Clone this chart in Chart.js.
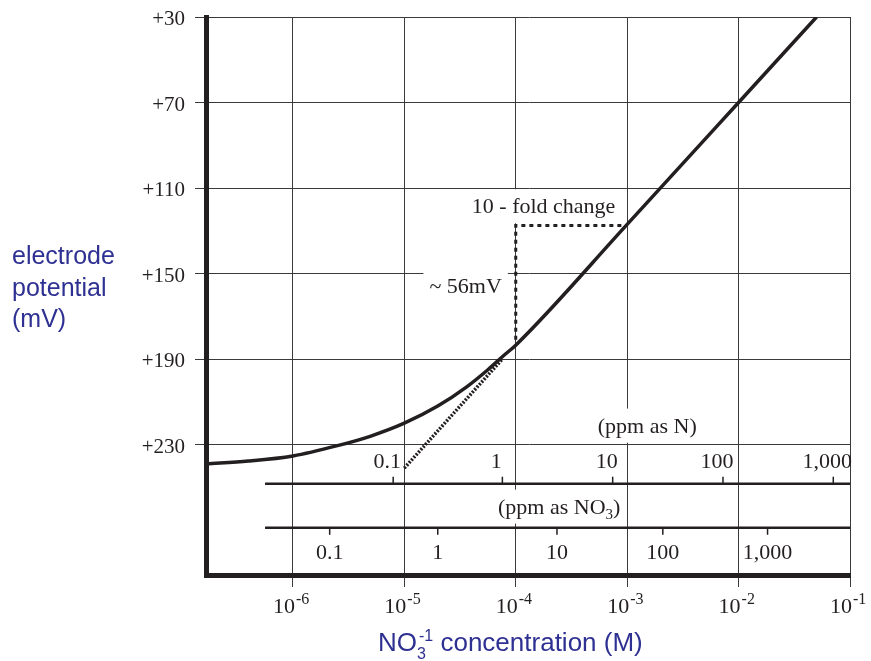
<!DOCTYPE html>
<html>
<head>
<meta charset="utf-8">
<script src="https://cdn.jsdelivr.net/npm/chart.js@4.4.1/dist/chart.umd.min.js"></script>
<style>
  html, body { margin: 0; padding: 0; background: #fff; }
  #wrap { width: 871px; height: 661px; }
</style>
</head>
<body>
<div id="wrap"><canvas id="no3Chart" width="871" height="661"></canvas></div>
<script>
// electrode response (x as log10 of molar conc.)
const curveExp = [-6.78, -6.4, -6.0, -5.6, -5.3, -5.0, -4.7, -4.44, -4.25, -4.1, -4.0, -3.0, -2.0, -1.3];
const curveMv = [239, 237.7, 235.3, 230.5, 226, 220, 212, 203, 195, 188, 183.5, 127, 70, 30];

// dotted extension of the straight part
const nernstExp = [-5.0, -4.12];
const nernstMv = [241, 190];

// dashed "10-fold change" step
const stepExp = [-4, -4, -3];
const stepMv = [181, 127.5, 127.5];

const xTickExp = [-6, -5, -4, -3, -2, -1];
const yTicks = [30, 70, 110, 150, 190, 230];

// ppm scales drawn under the curve, with where each tick sits on the molar axis
const ppmNLabels = ['0.1', '1', '10', '100', '1,000'];
const ppmNExp = [-5.10, -4.12, -3.13, -2.14, -1.15];
const ppmNO3Labels = ['0.1', '1', '10', '100', '1,000'];
const ppmNO3Exp = [-5.67, -4.70, -3.63, -2.68, -1.74];

const ink = '#231f20';
const blue = '#2e3192';
const serif = '"Liberation Serif", "Times New Roman", serif';
const sans = '"Liberation Sans", Arial, sans-serif';

const toPts = (ex, mv) => ex.map((e, i) => ({ x: Math.pow(10, e), y: mv[i] }));

const overlay = {
  id: 'overlay',
  beforeDatasetsDraw(chart) {
    const { ctx, scales: { x, y } } = chart;
    const px = e => x.getPixelForValue(Math.pow(10, e));
    const py = v => y.getPixelForValue(v);
    ctx.save();

    // label with a white patch behind it so the grid stops at the text
    const boxed = (txt, cx, base, align, sub) => {
      ctx.font = '22px ' + serif;
      let w = ctx.measureText(txt).width;
      let subW = 0;
      if (sub) {
        ctx.font = '15px ' + serif;
        subW = ctx.measureText(sub.s).width;
        ctx.font = '22px ' + serif;
        w += subW + ctx.measureText(sub.after).width;
      }
      const left = align === 'right' ? cx - w : cx - w / 2;
      ctx.fillStyle = '#fff';
      ctx.fillRect(left - 6, base - 24, w + 12, 34);
      ctx.fillStyle = ink;
      ctx.textAlign = 'left';
      ctx.textBaseline = 'alphabetic';
      ctx.fillText(txt, left, base);
      if (sub) {
        const tw = ctx.measureText(txt).width;
        ctx.font = '15px ' + serif;
        ctx.fillText(sub.s, left + tw, base + 5);
        ctx.font = '22px ' + serif;
        ctx.fillText(sub.after, left + tw + subW, base);
      }
    };

    boxed('10 - fold change', px(-3.75), py(121.8), 'center');
    boxed('~ 56mV', px(-4.125), py(159.3), 'right');
    boxed('(ppm as N)', px(-2.82), py(224.4), 'center');
    boxed('(ppm as NO', px(-3.61), py(262.3), 'center', { s: '3', after: ')' });

    // the two ppm rulers
    const x0 = px(-6.25), x1 = chart.chartArea.right;
    const lineN = py(248.3), lineNO3 = py(268.9);
    ctx.strokeStyle = ink;
    ctx.lineWidth = 2.5;
    ctx.beginPath();
    ctx.moveTo(x0, lineN); ctx.lineTo(x1, lineN);
    ctx.moveTo(x0, lineNO3); ctx.lineTo(x1, lineNO3);
    ctx.stroke();

    ctx.lineWidth = 1.5;
    ctx.font = '22px ' + serif;
    ctx.fillStyle = ink;
    ctx.textAlign = 'center';
    ctx.textBaseline = 'alphabetic';
    ppmNExp.forEach((e, i) => {
      const tx = px(e);
      ctx.beginPath();
      ctx.moveTo(tx, lineN - 7); ctx.lineTo(tx, lineN);
      ctx.stroke();
      ctx.fillText(ppmNLabels[i], tx - 6, lineN - 16);
    });
    ppmNO3Exp.forEach((e, i) => {
      const tx = px(e);
      ctx.beginPath();
      ctx.moveTo(tx, lineNO3); ctx.lineTo(tx, lineNO3 + 7);
      ctx.stroke();
      ctx.fillText(ppmNO3Labels[i], tx, lineNO3 + 31);
    });
    ctx.restore();
  },
  afterDraw(chart) {
    const { ctx, scales: { x, y } } = chart;
    ctx.save();
    ctx.fillStyle = ink;
    ctx.textBaseline = 'alphabetic';

    // y tick labels
    ctx.font = '21px ' + serif;
    ctx.textAlign = 'right';
    y.ticks.forEach(t => {
      ctx.fillText('+' + t.value, 185, y.getPixelForValue(t.value) + 8);
    });

    // x tick labels: 10 with exponent
    const base = chart.chartArea.bottom + 38;
    x.ticks.forEach(t => {
      const tx = x.getPixelForValue(t.value);
      const ex = Math.round(Math.log10(t.value));
      ctx.font = '22px ' + serif;
      ctx.textAlign = 'right';
      ctx.fillText('10', tx + 2, base);
      ctx.font = '16px ' + serif;
      ctx.textAlign = 'left';
      ctx.fillText(String(ex), tx + 3, base - 9);
    });

    // axis titles
    ctx.fillStyle = blue;
    ctx.font = '25px ' + sans;
    ctx.textAlign = 'left';
    ['electrode', 'potential', '(mV)'].forEach((s, i) => ctx.fillText(s, 12, 264 + i * 31.5));

    let cx = 378;
    const tb = 651;
    ctx.font = '26px ' + sans;
    ctx.fillText('NO', cx, tb);
    cx += ctx.measureText('NO').width;
    ctx.font = '16px ' + sans;
    ctx.fillText('3', cx, tb + 8);
    ctx.fillText('-1', cx + 2, tb - 10);
    cx += ctx.measureText('-1').width + 2;
    ctx.font = '26px ' + sans;
    ctx.fillText(' concentration (M)', cx, tb);
    ctx.restore();
  }
};

new Chart(document.getElementById('no3Chart'), {
  type: 'line',
  data: {
    datasets: [
      { data: toPts(curveExp, curveMv), borderColor: ink, borderWidth: 3.5, pointRadius: 0, cubicInterpolationMode: 'monotone' },
      { data: toPts(nernstExp, nernstMv), borderColor: ink, borderWidth: 3.5, borderDash: [2, 1.5], pointRadius: 0 },
      { data: toPts(stepExp, stepMv), borderColor: ink, borderWidth: 3, borderDash: [4, 4], pointRadius: 0, tension: 0 }
    ]
  },
  options: {
    responsive: false,
    animation: false,
    devicePixelRatio: 1,
    layout: { padding: { top: 17, right: 21, left: 0, bottom: 0 } },
    plugins: { legend: { display: false }, tooltip: { enabled: false } },
    scales: {
      x: {
        type: 'logarithmic',
        min: Math.pow(10, -6.78),
        max: 0.1,
        afterBuildTicks: s => { s.ticks = xTickExp.map(e => ({ value: Math.pow(10, e) })); },
        afterFit: s => { s.height = 86; },
        ticks: { display: false },
        grid: { color: '#3a3a3a', lineWidth: 1, tickLength: 12 },
        border: { display: true, color: ink, width: 5 }
      },
      y: {
        type: 'linear',
        reverse: true,
        min: 30,
        max: 291,
        afterBuildTicks: s => { s.ticks = yTicks.map(v => ({ value: v })); },
        afterFit: s => { s.width = 206; },
        ticks: { display: false },
        grid: { color: '#3a3a3a', lineWidth: 1, tickLength: 11 },
        border: { display: true, color: ink, width: 5 }
      }
    }
  },
  plugins: [overlay]
});
</script>
</body>
</html>
